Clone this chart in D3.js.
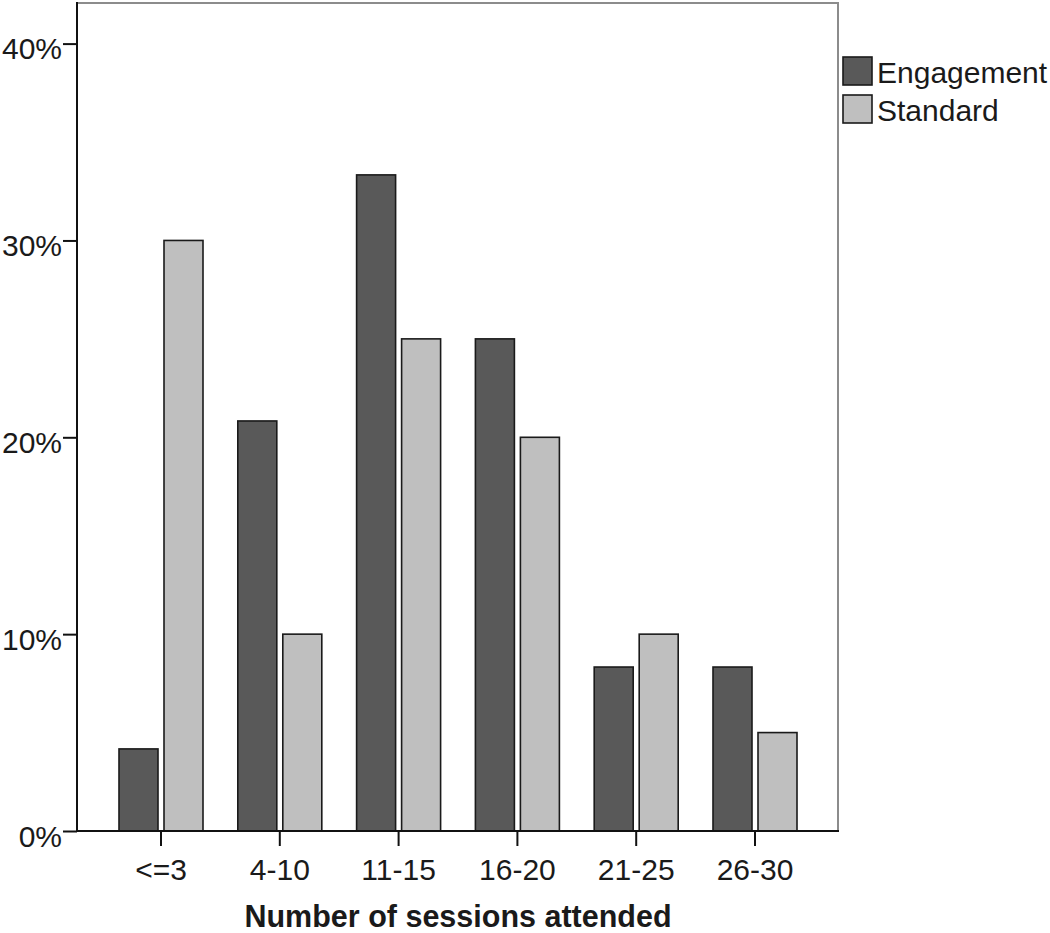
<!DOCTYPE html>
<html>
<head>
<meta charset="utf-8">
<script src="https://cdn.jsdelivr.net/npm/d3@7"></script>
<style>
  html, body { margin: 0; padding: 0; background: #fff; }
  svg { display: block; }
  text { font-family: "Liberation Sans", Arial, sans-serif; fill: #1a1a1a; }
</style>
</head>
<body>
<svg id="chart" width="1050" height="933"></svg>
<script>
const categories = ["<=3", "4-10", "11-15", "16-20", "21-25", "26-30"];
const engagement = [4.17, 20.83, 33.33, 25.0, 8.33, 8.33];
const standard = [30, 10, 25, 20, 10, 5];
const seriesNames = ["Engagement", "Standard"];
const yTicks = [0, 10, 20, 30, 40];

const colors = { Engagement: "#595959", Standard: "#bfbfbf" };

const svg = d3.select("#chart");
const mLeft = 77, mRight = 838, mTop = 3, mBottom = 831;

const x = d3.scaleBand().domain(categories).range([101.6, 814.4]).padding(0);
const y = d3.scaleLinear().domain([0, 40]).range([mBottom, 43.6]);

// frame (top and right gray)
svg.append("path")
  .attr("d", `M${mLeft},${mTop}H${mRight}V${mBottom}`)
  .attr("fill", "none").attr("stroke", "#8c8c8c").attr("stroke-width", 2);

const barW = 39;
const data = categories.map((c, i) => ({ c, e: engagement[i], s: standard[i] }));

const g = svg.append("g");
data.forEach(d => {
  const cx = x(d.c) + x.bandwidth() / 2;
  g.append("rect")
    .attr("x", cx - 42).attr("width", barW)
    .attr("y", y(d.e)).attr("height", y(0) - y(d.e))
    .attr("fill", colors.Engagement).attr("stroke", "#1a1a1a").attr("stroke-width", 1.6);
  g.append("rect")
    .attr("x", cx + 3).attr("width", barW)
    .attr("y", y(d.s)).attr("height", y(0) - y(d.s))
    .attr("fill", colors.Standard).attr("stroke", "#1a1a1a").attr("stroke-width", 1.6);
});

// Y axis
const yAxis = svg.append("g").attr("transform", `translate(${mLeft},0)`)
  .call(d3.axisLeft(y).tickValues(yTicks).tickFormat(d => d + "%").tickSize(14).tickSizeOuter(0));
yAxis.select(".domain").remove();
yAxis.selectAll(".tick line").attr("stroke", "#111").attr("stroke-width", 2);
yAxis.selectAll(".tick text")
  .attr("x", -15).attr("dy", "0.5em")
  .style("font-size", "30px").style("font-family", "'Liberation Sans', Arial, sans-serif").attr("fill", "#1a1a1a");
svg.append("line").attr("x1", mLeft).attr("x2", mLeft).attr("y1", mTop - 1).attr("y2", mBottom + 1)
  .attr("stroke", "#111").attr("stroke-width", 2);

// X axis
const xAxis = svg.append("g").attr("transform", `translate(0,${mBottom})`)
  .call(d3.axisBottom(x).tickSize(15).tickSizeOuter(0));
xAxis.select(".domain").remove();
xAxis.selectAll(".tick line").attr("stroke", "#111").attr("stroke-width", 2);
xAxis.selectAll(".tick text")
  .attr("y", 49).attr("dy", 0)
  .style("font-size", "30px").style("font-family", "'Liberation Sans', Arial, sans-serif").attr("fill", "#1a1a1a");
svg.append("line").attr("x1", mLeft - 1).attr("x2", mRight + 1).attr("y1", mBottom).attr("y2", mBottom)
  .attr("stroke", "#111").attr("stroke-width", 2);

// axis title
svg.append("text")
  .attr("x", 458).attr("y", 927)
  .attr("text-anchor", "middle")
  .style("font-size", "30.5px").style("font-weight", "bold")
  .text("Number of sessions attended");

// legend
const legend = svg.append("g");
seriesNames.forEach((name, i) => {
  const yy = 57 + i * 38;
  legend.append("rect").attr("x", 843).attr("y", yy).attr("width", 29).attr("height", 28)
    .attr("fill", colors[name]).attr("stroke", "#1a1a1a").attr("stroke-width", 1.6);
  legend.append("text").attr("x", 877).attr("y", yy + 26)
    .style("font-size", "30px").text(name);
});
</script>
</body>
</html>
